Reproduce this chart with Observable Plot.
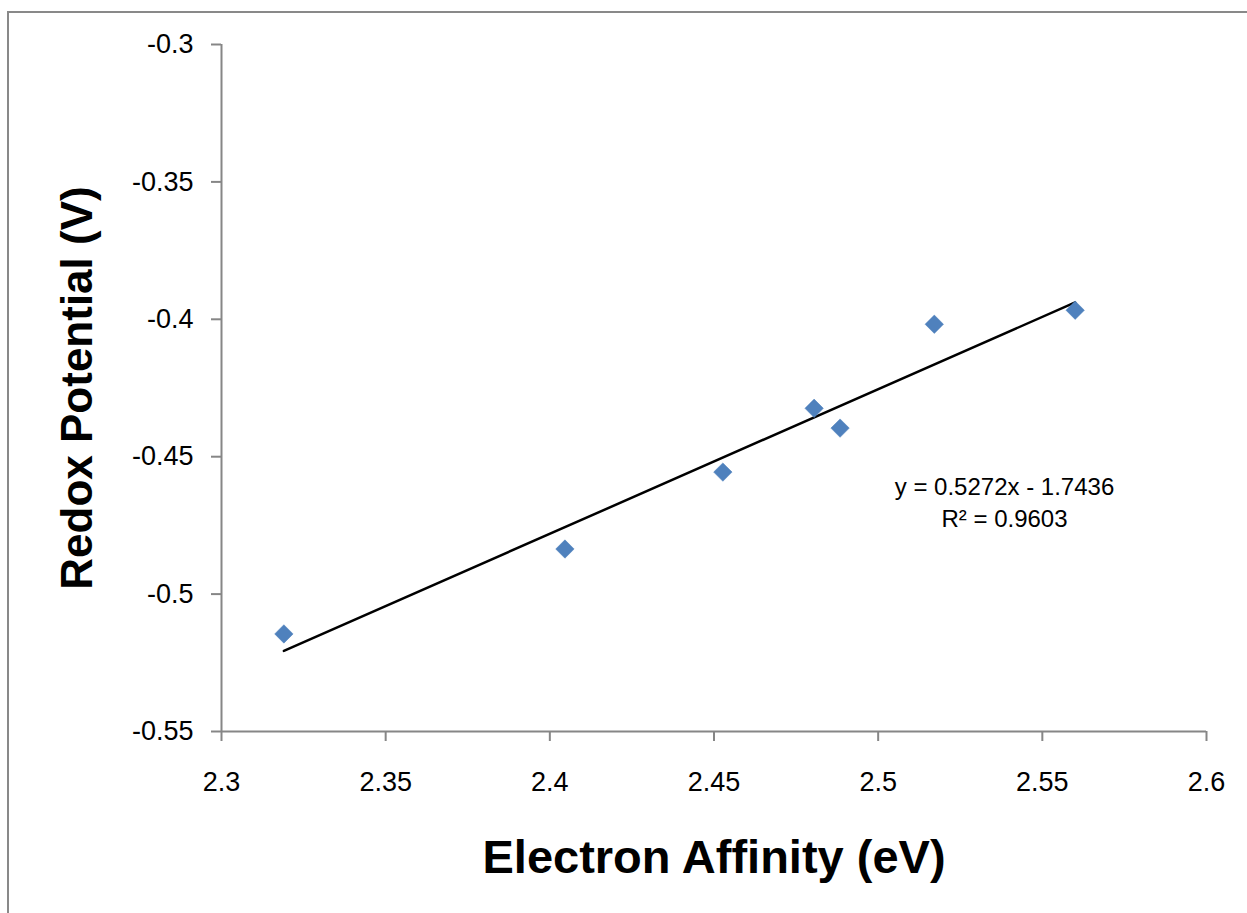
<!DOCTYPE html>
<html><head><meta charset="utf-8">
<script src="https://cdn.jsdelivr.net/npm/d3@7"></script>
<script src="https://cdn.jsdelivr.net/npm/@observablehq/plot@0.6"></script>
<style>
body{margin:0;background:#fff}
#wrap{position:relative;width:1247px;height:913px;overflow:hidden;background:#fff}
#frame{position:absolute;left:7px;top:11px;width:1300px;height:1000px;border-left:2px solid #898989;border-top:2px solid #898989;pointer-events:none}
#chart{position:absolute;left:0;top:0}
</style></head><body><div id="wrap"><div id="chart"></div><div id="frame"></div></div>
<script>
const electronAffinity = [2.319, 2.4046, 2.4527, 2.4805, 2.4884, 2.5171, 2.56];
const redoxPotential = [-0.5145, -0.4836, -0.4556, -0.4324, -0.4396, -0.4018, -0.3967];
const xTicks = [2.3, 2.35, 2.4, 2.45, 2.5, 2.55, 2.6];
const xTickLabels = ["2.3", "2.35", "2.4", "2.45", "2.5", "2.55", "2.6"];
const yTicks = [-0.3, -0.35, -0.4, -0.45, -0.5, -0.55];
const yTickLabels = ["-0.3", "-0.35", "-0.4", "-0.45", "-0.5", "-0.55"];
const trendEquation = "y = 0.5272x - 1.7436";
const trendR2 = "R² = 0.9603";
const xTitle = "Electron Affinity (eV)";
const yTitle = "Redox Potential (V)";

const points = electronAffinity.map((x, i) => ({x, y: redoxPotential[i]}));
const axisGray = "#868686";
const titleFont = "'Liberation Sans Narrow', 'Arial Narrow', 'Liberation Sans', sans-serif";

const chart = Plot.plot({
  width: 1247,
  height: 913,
  marginLeft: 221,
  marginRight: 41,
  marginTop: 44,
  marginBottom: 182,
  style: {fontFamily: "'Liberation Sans', Arial, sans-serif", background: "transparent"},
  x: {domain: [2.3, 2.6]},
  y: {domain: [-0.55, -0.3]},
  marks: [
    Plot.ruleX([xTicks[0]], {stroke: axisGray, strokeWidth: 2}),
    Plot.ruleY([yTicks[yTicks.length - 1]], {stroke: axisGray, strokeWidth: 2}),
    Plot.axisX({ticks: xTicks, tickFormat: (d, i) => xTickLabels[i], tickSize: 10, tickPadding: 30,
      stroke: axisGray, strokeWidth: 2, fill: "black", fontSize: 27, label: null}),
    Plot.axisY({ticks: yTicks, tickFormat: (d, i) => yTickLabels[i], tickSize: 10, tickPadding: 18,
      stroke: axisGray, strokeWidth: 2, fill: "black", fontSize: 27, label: null}),
    Plot.linearRegressionY(points, {x: "x", y: "y", ci: 0, stroke: "black", strokeWidth: 2.5}),
    Plot.dot(points, {x: "x", y: "y", symbol: "diamond2", r: 8.3, fill: "#4F81BD", stroke: "#4A7EBB", strokeWidth: 0.5}),
    Plot.text([trendEquation + "\n" + trendR2], {frameAnchor: "top-left", dx: 783, dy: 456,
      fontSize: 24, lineHeight: 1.33, fill: "black", textAnchor: "middle", lineAnchor: "middle"}),
    Plot.text([xTitle], {frameAnchor: "bottom", dy: 126, fontSize: 47, fontWeight: "bold",
      fontFamily: titleFont, fill: "black", textAnchor: "middle", lineAnchor: "middle"}),
    Plot.text([yTitle], {frameAnchor: "left", dx: -144, rotate: -90, fontSize: 44, fontWeight: "bold",
      fontFamily: titleFont, fill: "black", textAnchor: "middle", lineAnchor: "middle"})
  ]
});
document.getElementById("chart").append(chart);
</script>
</body></html>
